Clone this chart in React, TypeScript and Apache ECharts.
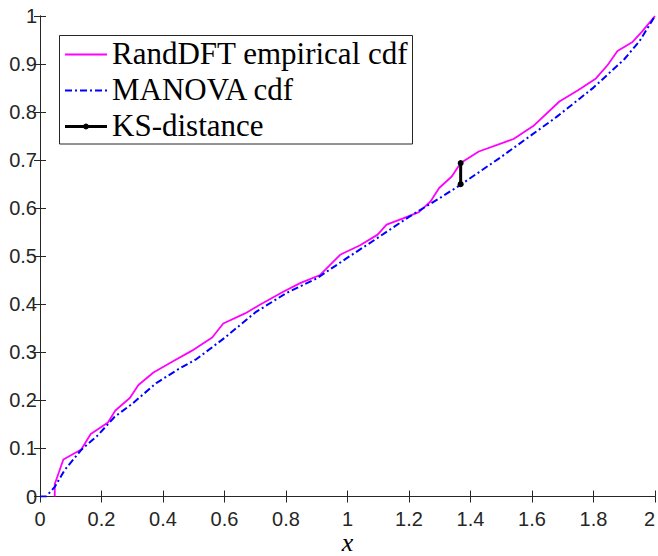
import React, { useEffect, useRef } from "react";
import * as echarts from "echarts";

// RandDFT empirical cdf (vertices)
const empX = [0.048, 0.048, 0.076, 0.134, 0.165, 0.221, 0.245, 0.292, 0.32, 0.369, 0.434, 0.493, 0.56, 0.596, 0.667, 0.715, 0.791, 0.846, 0.911, 0.976, 1.041, 1.098, 1.127, 1.181, 1.232, 1.27, 1.298, 1.339, 1.368, 1.427, 1.54, 1.604, 1.689, 1.751, 1.808, 1.846, 1.878, 1.927, 1.957, 2.0];
const empY = [0, 0.026, 0.077, 0.098, 0.13, 0.154, 0.179, 0.205, 0.232, 0.258, 0.282, 0.303, 0.331, 0.36, 0.381, 0.399, 0.426, 0.444, 0.461, 0.503, 0.523, 0.545, 0.566, 0.579, 0.592, 0.614, 0.642, 0.666, 0.694, 0.718, 0.744, 0.771, 0.822, 0.846, 0.87, 0.898, 0.927, 0.946, 0.967, 1.0];

// MANOVA cdf
const manX = [0, 0.02, 0.048, 0.08, 0.134, 0.189, 0.243, 0.3, 0.378, 0.45, 0.509, 0.6, 0.7, 0.8, 0.9, 1.0, 1.095, 1.2, 1.3, 1.366, 1.496, 1.6, 1.68, 1.8, 1.9, 1.95, 2.0];
const manY = [0, 0, 0.02, 0.055, 0.097, 0.128, 0.166, 0.193, 0.236, 0.265, 0.286, 0.33, 0.383, 0.423, 0.454, 0.497, 0.537, 0.582, 0.621, 0.648, 0.705, 0.753, 0.79, 0.851, 0.91, 0.948, 1.0];

// KS-distance segment
const ksX = [1.368, 1.368];
const ksY = [0.65, 0.694];

const seriesNames = ["RandDFT empirical cdf", "MANOVA cdf", "KS-distance"];
const xAxisTitle = "x";

const zip = (xs: number[], ys: number[]) => xs.map((x, i) => [x, ys[i]]);

const AXIS_COLOR = "#262626";
const TICK_FONT = "'Liberation Sans', Arial, sans-serif";
const SERIF = "'Liberation Serif', 'Times New Roman', serif";

export default function App() {
  const ref = useRef<HTMLDivElement>(null);
  useEffect(() => {
    if (!ref.current) return;
    const chart = echarts.init(ref.current, undefined, { renderer: "svg" });
    const gridL = 40, gridT = 16, gridW = 615, gridH = 480.5;
    const commonAxisLine = { show: true, lineStyle: { color: AXIS_COLOR, width: 1 } };
    const commonTick = { show: true, inside: true, length: 6, lineStyle: { color: AXIS_COLOR, width: 1 } };
    const legendRows = [54.5, 90.5, 126.5];
    const lx0 = 65, lx1 = 107;
    chart.setOption({
      animation: false,
      backgroundColor: "#ffffff",
      grid: {
        left: gridL, top: gridT, width: gridW, height: gridH, show: false,
        containLabel: false, outerBoundsMode: "none",
      },
      xAxis: [
        {
          type: "value", min: 0, max: 2, interval: 0.2, position: "bottom",
          axisLine: commonAxisLine, axisTick: commonTick, splitLine: { show: false },
          axisLabel: { color: AXIS_COLOR, fontFamily: TICK_FONT, fontSize: 20, margin: 12, alignMaxLabel: "right" },
        },
        {
          type: "value", min: 0, max: 2, interval: 0.2, position: "top",
          axisLine: commonAxisLine, axisTick: commonTick, axisLabel: { show: false }, splitLine: { show: false },
        },
      ],
      yAxis: [
        {
          type: "value", min: 0, max: 1, interval: 0.1, position: "left",
          axisLine: commonAxisLine, axisTick: commonTick, splitLine: { show: false },
          axisLabel: { color: AXIS_COLOR, fontFamily: TICK_FONT, fontSize: 20, margin: 3 },
        },
        {
          type: "value", min: 0, max: 1, interval: 0.1, position: "right",
          axisLine: commonAxisLine, axisTick: commonTick, axisLabel: { show: false }, splitLine: { show: false },
        },
      ],
      series: [
        {
          name: seriesNames[0], type: "line", data: zip(empX, empY), symbol: "none",
          lineStyle: { color: "#ff00ff", width: 1.8 }, z: 2,
        },
        {
          name: seriesNames[1], type: "line", data: zip(manX, manY), symbol: "none",
          lineStyle: { color: "#0000ff", width: 2, type: [7, 3, 2, 3] }, z: 3,
        },
        {
          name: seriesNames[2], type: "line", data: zip(ksX, ksY), symbol: "circle", symbolSize: 6,
          itemStyle: { color: "#000" }, lineStyle: { color: "#000", width: 3 }, z: 4,
        },
      ],
      graphic: [
        {
          type: "text", z: 102, x: gridL + gridW / 2, y: 542.5,
          style: { text: xAxisTitle, fontFamily: SERIF, fontStyle: "italic", fontSize: 26, fill: "#000", align: "center", verticalAlign: "middle" },
        },
        {
          type: "rect", z: 100,
          shape: { x: 59.5, y: 35.5, width: 353, height: 108.5 },
          style: { fill: "#ffffff", stroke: AXIS_COLOR, lineWidth: 1 },
        },
        {
          type: "line", z: 101,
          shape: { x1: lx0, y1: legendRows[0], x2: lx1, y2: legendRows[0] },
          style: { stroke: "#ff00ff", lineWidth: 1.8 },
        },
        {
          type: "line", z: 101,
          shape: { x1: lx0, y1: legendRows[1], x2: lx1, y2: legendRows[1] },
          style: { stroke: "#0000ff", lineWidth: 2, lineDash: [7, 3, 2, 3] },
        },
        {
          type: "line", z: 101,
          shape: { x1: lx0, y1: legendRows[2], x2: lx1, y2: legendRows[2] },
          style: { stroke: "#000", lineWidth: 3 },
        },
        {
          type: "circle", z: 102,
          shape: { cx: (lx0 + lx1) / 2, cy: legendRows[2], r: 3 },
          style: { fill: "#000" },
        },
        ...seriesNames.map((n, i) => ({
          type: "text", z: 102, x: 112, y: legendRows[i] - 1,
          style: { text: n, fontFamily: SERIF, fontSize: 31, fill: "#000", verticalAlign: "middle", align: "left" },
        })),
      ],
    });
    return () => chart.dispose();
  }, []);
  return <div ref={ref} style={{ width: 658, height: 556, position: "absolute", left: 0, top: 0 }} />;
}
